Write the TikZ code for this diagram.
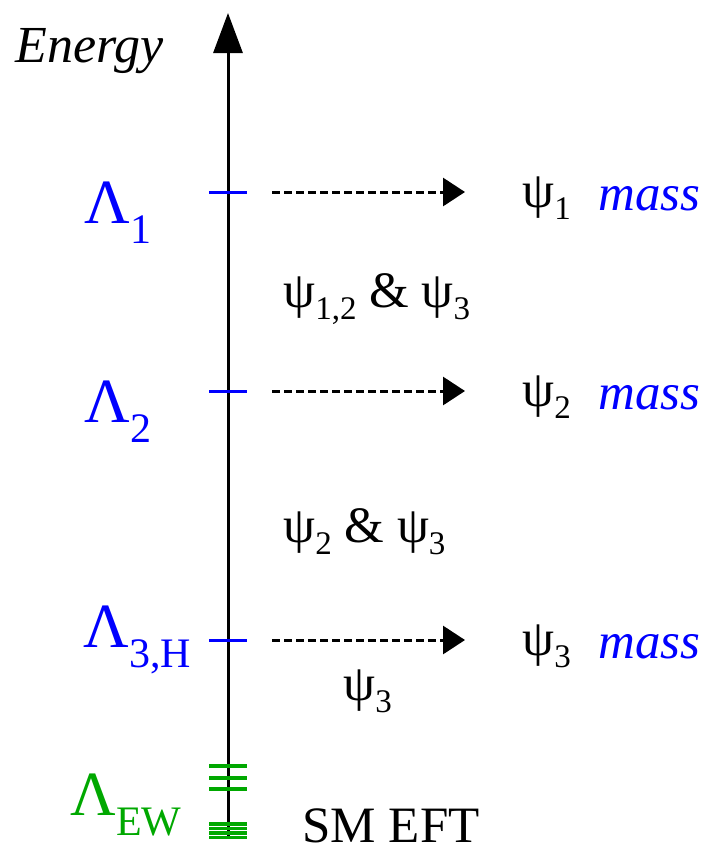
\documentclass[tikz,border=0pt]{standalone}
\usepackage{fontspec}
\setmainfont{Liberation Serif}
\usetikzlibrary{arrows.meta}
\definecolor{scaleblue}{HTML}{0000FF}
\definecolor{ewgreen}{HTML}{00A800}
% subscripts
\newcommand{\lamsub}[1]{\raisebox{-10pt}{\fontsize{21}{24}\selectfont #1}}
\newcommand{\psisub}[1]{\raisebox{-6pt}{\fontsize{16.5}{19}\selectfont #1}}
\newcommand{\psitxt}{ψ}

\begin{document}
\begin{tikzpicture}[x=0.5pt, y=-0.5pt,
  every node/.style={inner sep=0pt, anchor=base west, font=\fontsize{25.5}{30}\selectfont},
  lamlabel/.style={font=\fontsize{31.5}{36}\selectfont},
  axisline/.style={line width=1.5pt, -{Triangle[length=20pt, width=14.5pt]}},
  lvltick/.style={line width=1.5pt},
  ewtick/.style={line width=1.6pt, ewgreen},
  decay/.style={line width=1.5pt, dash pattern=on 4pt off 2pt, -{Triangle[length=11pt, width=14pt]}}]
  \useasboundingbox (0,0) rectangle (710,848);

  % Axe
  \coordinate (axbot) at (228,838);
  \coordinate (axtop) at (228,13);
  \draw[axisline] (axbot) -- (axtop);
  \node[font=\fontsize{26}{30}\selectfont\itshape] (energy) at (15,62) {Energy};

  % Echelles
  \foreach \name/\y in {one/192, two/391, three/640} {
    \coordinate (t\name) at (228,\y);
    \coordinate (s\name) at (272,\y);
    \coordinate (e\name) at (465,\y);
    \draw[lvltick, scaleblue] ([xshift=-9.5pt]t\name) -- ([xshift=9.5pt]t\name);
    \draw[decay] (s\name) -- (e\name);
  }
  \foreach \y [count=\i] in {766, 778, 789, 824, 828.5, 833, 837.5} {
    \coordinate (g\i) at (228,\y);
    \draw[ewtick] ([xshift=-9.5pt]g\i) -- ([xshift=9.5pt]g\i);
  }

  % Etiquettes
  \node[lamlabel, scaleblue] (lamone) at (84,223) {Λ\lamsub{1}};
  \node[lamlabel, scaleblue] (lamtwo) at (84,422) {Λ\lamsub{2}};
  \node[lamlabel, scaleblue] (lamthree) at (83,647) {Λ\lamsub{3,H}};
  \node[lamlabel, ewgreen] (lamew) at (70,815) {Λ\lamsub{EW}};

  % Masses
  \node (psione) at (522,207) {\psitxt\psisub{1}};
  \node (psitwo) at (522,406) {\psitxt\psisub{2}};
  \node (psithree) at (522,655) {\psitxt\psisub{3}};
  \node[font=\fontsize{25.5}{30}\selectfont\itshape, scaleblue] (massone) at (598,210) {mass};
  \node[font=\fontsize{25.5}{30}\selectfont\itshape, scaleblue] (masstwo) at (598,409) {mass};
  \node[font=\fontsize{25.5}{30}\selectfont\itshape, scaleblue] (massthree) at (598,658) {mass};

  % Regions
  \node (regone) at (283,307) {\psitxt\psisub{1,2} \& \psitxt\psisub{3}};
  \node (regtwo) at (283,542) {\psitxt\psisub{2} \& \psitxt\psisub{3}};
  \node (regthree) at (343,700) {\psitxt\psisub{3}};
  \node (smeft) at (302,842) {SM EFT};
\end{tikzpicture}
\end{document}
